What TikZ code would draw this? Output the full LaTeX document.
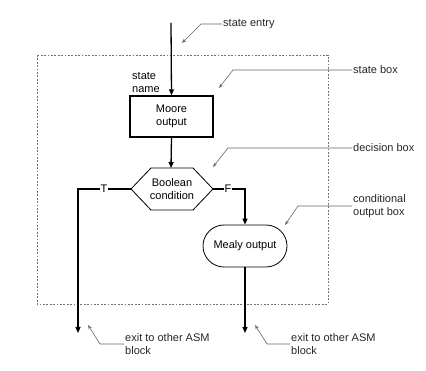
\documentclass[tikz,border=0pt]{standalone}
\usepackage{fontspec}
\setmainfont{Liberation Sans}
\usetikzlibrary{arrows.meta,shapes.misc}

\begin{document}
\begin{tikzpicture}[x=1pt,y=-1pt,
  font=\fontsize{11}{13}\selectfont,
  flow/.style={line width=1.3pt,-{Triangle[length=6pt,width=5pt]}},
  note/.style={draw=black!60,line width=0.6pt,-{Stealth[length=4.5pt,width=3.5pt,open]}},
  notetext/.style={anchor=west,align=left,inner sep=1pt,text=black!85},
  moorebox/.style={draw,line width=1.4pt,minimum width=83pt,minimum height=41pt,align=center,inner sep=0pt},
  mealybox/.style={draw,line width=0.8pt,rounded rectangle,minimum width=84pt,minimum height=42pt,inner sep=0pt},
  branchlbl/.style={fill=white,inner sep=1pt}]
\useasboundingbox (0,0) rectangle (426,371);

% state block outline
\draw[black!55,line width=0.7pt,dash pattern=on 1.8pt off 1.6pt] (37,55) rectangle (328,304);

% state box
\coordinate (entry) at (171,23);
\node[moorebox] (moore) at (171.5,116.5) {Moore\\output};
\node[notetext,text=black] (sname) at (131,83) {\fontsize{11}{12}\selectfont state\\name};

% decision box
\coordinate (decL) at (131,189);
\coordinate (decR) at (213,189);
\coordinate (decTL) at (151,168);
\coordinate (decTR) at (193,168);
\coordinate (decBL) at (151,210);
\coordinate (decBR) at (193,210);
\draw[line width=0.8pt] (decL) -- (decTL) -- (decTR) -- (decR) -- (decBR) -- (decBL) -- cycle;
\node[align=center,inner sep=0pt] (dec) at (172,189) {Boolean\\condition};
\coordinate (decTop) at (171,168);

% conditional output box
\node[mealybox] (mealy) at (245,246) {Mealy output};

% exits
\coordinate (tcorner) at (78,189);
\coordinate (exitT) at (78,333);
\coordinate (fcorner) at (245,189);
\coordinate (exitF) at (245,333);

% main flow
\draw[flow] (entry) -- (moore.north);
\draw[flow] (moore.south) -- (decTop);
\draw[flow] (decL) -- (tcorner) -- (exitT);
\draw[flow] (decR) -- (fcorner) -- (mealy.north);
\draw[flow] (mealy.south) -- (exitF);
\node[branchlbl] (tlbl) at (104,189) {T};
\node[branchlbl] (flbl) at (228,189) {F};

% annotations
\node[notetext] (nEntry) at (222,24) {state entry};
\coordinate (aEntry) at (182,43);
\draw[note] (nEntry.west) -- ++(-21,0) -- (aEntry);

\node[notetext] (nState) at (352,70) {state box};
\coordinate (aState) at (219,88);
\draw[note] (nState.west) -- (233,70) -- (aState);

\node[notetext] (nDec) at (352,148) {decision box};
\coordinate (aDec) at (213,167);
\draw[note] (nDec.west) -- (228,148) -- (aDec);

\node[notetext] (nCond) at (352,206) {conditional\\output box};
\coordinate (aCond) at (285,225);
\draw[note] (nCond.west) -- (298,206) -- (aCond);

\node[notetext] (nExitT) at (124,344) {exit to other ASM\\block};
\coordinate (aExitT) at (88,325);
\draw[note] (nExitT.west) -- (100,344) -- (aExitT);

\node[notetext] (nExitF) at (290,344) {exit to other ASM\\block};
\coordinate (aExitF) at (255,325);
\draw[note] (nExitF.west) -- (267,344) -- (aExitF);
\end{tikzpicture}
\end{document}
